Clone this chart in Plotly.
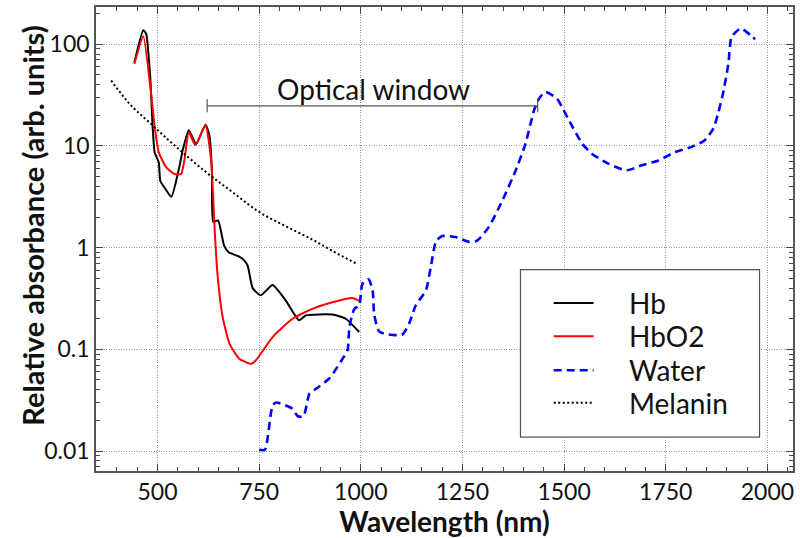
import plotly.graph_objects as go

# ---- data ----
hb_wl = [443, 465, 472, 482, 488, 493, 503, 507, 517, 534, 554, 562, 577, 595, 618, 628, 634, 637, 649, 664, 675, 700, 713, 722, 734, 754, 783, 816, 848, 865, 930, 963, 996]
hb_val = [66, 137, 127, 48, 15.4, 8.6, 6.9, 4.5, 3.9, 3.16, 6.3, 9.1, 14.3, 10.4, 16.2, 12.5, 5.4, 1.8, 1.85, 1.04, 0.9, 0.82, 0.75, 0.66, 0.40, 0.34, 0.43, 0.30, 0.193, 0.216, 0.22, 0.20, 0.148]

hbo2_wl = [443, 465, 484, 493, 503, 521, 542, 558, 566, 577, 593, 618, 632, 638, 641, 648, 660, 677, 701, 730, 742, 783, 832, 881, 930, 979, 996]
hbo2_val = [64, 120, 33, 15.4, 8.7, 6.2, 5.3, 5.3, 7.2, 13.7, 10.2, 16, 7.2, 2.5, 1.4, 0.52, 0.21, 0.114, 0.081, 0.072, 0.078, 0.132, 0.20, 0.25, 0.29, 0.32, 0.30]

water_wl = [750, 764, 783, 792, 832, 845, 859, 874, 890, 923, 963, 968, 972, 984, 996, 1004, 1019, 1029, 1033, 1045, 1069, 1102, 1119, 1135, 1160, 1172, 1185, 1200, 1233, 1266, 1286, 1315, 1348, 1381, 1405, 1426, 1438, 1454, 1483, 1495, 1512, 1544, 1568, 1609, 1654, 1691, 1732, 1773, 1814, 1846, 1867, 1879, 1891, 1904, 1912, 1935, 1961, 1970]
water_val = [0.0103, 0.0103, 0.028, 0.030, 0.026, 0.022, 0.022, 0.037, 0.041, 0.052, 0.091, 0.10, 0.166, 0.25, 0.27, 0.44, 0.49, 0.38, 0.22, 0.15, 0.14, 0.14, 0.18, 0.27, 0.38, 0.64, 1.15, 1.3, 1.27, 1.14, 1.17, 1.6, 2.9, 5.75, 10.5, 22.4, 29, 34, 29, 24, 17.9, 10.6, 8.4, 6.7, 5.76, 6.45, 7.2, 8.7, 9.8, 11.4, 14.8, 21, 33, 64, 118, 143, 120, 112]

mel_wl = [386, 431, 488, 546, 620, 685, 750, 816, 881, 930, 988]
mel_val = [44, 26, 15.9, 9.8, 5.5, 3.5, 2.24, 1.62, 1.2, 0.93, 0.70]

series_names = ["Hb", "HbO2", "Water", "Melanin"]
window_wl = [622, 1435]
window_level = 24.8
x_ticks = [500, 750, 1000, 1250, 1500, 1750, 2000]
y_ticks = [0.01, 0.1, 1, 10, 100]
y_ticktext = ["0.01", "0.1", "1", "10", "100"]

FONT = "Lato"
TXT = "#111111"

styles = [
    dict(color="black", width=2, shape="spline", smoothing=0.5),
    dict(color="#ff0000", width=2, shape="spline", smoothing=0.5),
    dict(color="#0000ff", width=2.6, dash="8px,5px", shape="spline", smoothing=0.6),
    dict(color="black", width=2, dash="2px,2.5px", shape="spline"),
]
data = [(hb_wl, hb_val), (hbo2_wl, hbo2_val), (water_wl, water_val), (mel_wl, mel_val)]

fig = go.Figure()
for (xs, ys), name, st in zip(data, series_names, styles):
    fig.add_trace(go.Scatter(x=xs, y=ys, name=name, mode="lines", line=st, showlegend=False))

# optical window bracket
f = 1.16
fig.add_trace(go.Scatter(
    x=[window_wl[0], window_wl[0], None, window_wl[0], window_wl[1], None, window_wl[1], window_wl[1]],
    y=[window_level / f, window_level * f, None, window_level, window_level, None, window_level / f, window_level * f],
    mode="lines", line=dict(color="#555555", width=1.2), showlegend=False, hoverinfo="skip"))
fig.add_annotation(x=1030, y=1.561, xref="x", yref="y", text="Optical window", showarrow=False,
                   font=dict(family=FONT, size=28, color=TXT), xanchor="center", yanchor="middle")

# legend box (paper coordinates)
fig.add_shape(type="rect", xref="paper", yref="paper", x0=0.609, x1=0.952, y0=0.073, y1=0.434,
              line=dict(color="#555555", width=1.2), fillcolor="white", layer="above")
rows = [0.3619, 0.2903, 0.2172, 0.1469]
for yy, name, st in zip(rows, series_names, styles):
    fig.add_shape(type="line", xref="paper", yref="paper", x0=0.6567, x1=0.7139, y0=yy, y1=yy,
                  line=dict(color=st["color"], width=st["width"], dash=st.get("dash", "solid")), layer="above")
    fig.add_annotation(x=0.7625, y=yy, xref="paper", yref="paper", text=name, showarrow=False,
                       xanchor="left", yanchor="middle", font=dict(family=FONT, size=28, color=TXT))

# y-axis title
fig.add_annotation(x=-0.0916, y=0.529, xref="paper", yref="paper", text="<b>Relative absorbance (arb. units)</b>",
                   textangle=-90, showarrow=False, xanchor="center", yanchor="middle",
                   font=dict(family=FONT, size=29, color=TXT))

minor_y = [m * 10.0 ** e for e in range(-3, 3) for m in range(2, 10)]

fig.update_layout(
    width=800, height=538,
    margin=dict(l=96, r=5, t=6, b=67),
    paper_bgcolor="white", plot_bgcolor="white",
    font=dict(family=FONT, size=23, color=TXT),
    showlegend=False,
)
grid = dict(showgrid=True, gridcolor="#999999", griddash="1px,1.5px", gridwidth=1)
fig.update_xaxes(
    range=[348.7, 2063], tickvals=x_ticks, ticks="inside", ticklen=7, tickwidth=1.2, tickcolor="#444444",
    showline=True, linecolor="#555555", linewidth=1.5, mirror="allticks",
    minor=dict(dtick=50, tick0=0, ticks="inside", ticklen=4, tickcolor="#444444", showgrid=False),
    tickfont=dict(family=FONT, size=23, color=TXT),
    title=dict(text="<b>Wavelength (nm)</b>", font=dict(family=FONT, size=28, color=TXT), standoff=2),
    zeroline=False, **grid,
)
fig.update_yaxes(
    type="log", range=[-2.196, 2.366], tickvals=y_ticks, ticktext=y_ticktext,
    ticks="inside", ticklen=7, tickwidth=1.2, tickcolor="#444444",
    showline=True, linecolor="#555555", linewidth=1.5, mirror="allticks",
    minor=dict(tickvals=minor_y, ticks="inside", ticklen=4, tickcolor="#444444", showgrid=False),
    tickfont=dict(family=FONT, size=23, color=TXT),
    zeroline=False, **grid,
)

fig.write_html("out.html")
